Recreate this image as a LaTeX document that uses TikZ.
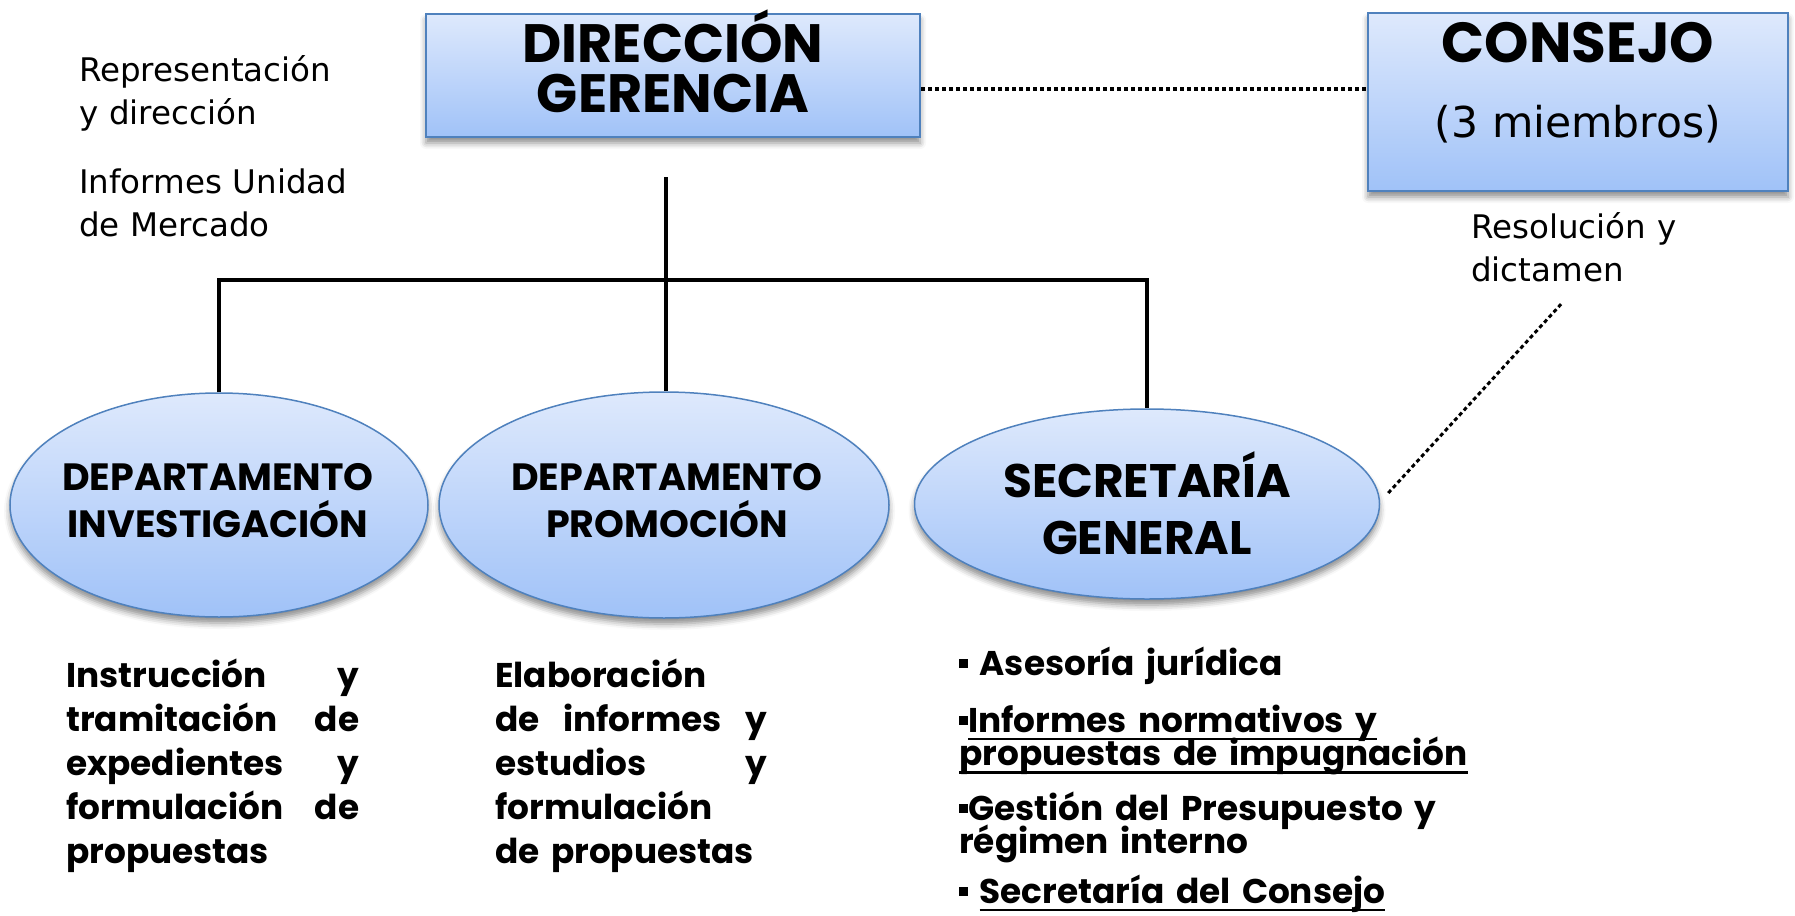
\documentclass[tikz,border=0pt]{standalone}
\usepackage{fontspec}
\setmainfont{DejaVu Sans}
\newfontfamily\gothic{Poppins}
\usetikzlibrary{shapes.geometric, shadows.blur, positioning, calc}
\definecolor{boxtop}{RGB}{222,233,252}
\definecolor{boxbot}{RGB}{160,194,248}
\definecolor{boxline}{RGB}{79,129,189}
\newsavebox{\ulinebox}
\newcommand{\ulined}[1]{\sbox{\ulinebox}{#1}\smash{\rlap{\rule[-8pt]{\wd\ulinebox}{2.5pt}}}\usebox{\ulinebox}}
\newcommand{\bulsq}{\rule[7pt]{9pt}{9pt}}
\setlength{\lineskiplimit}{-100pt}

\tikzset{
  unit/.style={draw=boxline, top color=boxtop, bottom color=boxbot,
    blur shadow={shadow xshift=0pt, shadow yshift=-6pt, shadow blur radius=6pt, shadow opacity=45}},
  headbox/.style={unit, rectangle, line width=2.5pt, inner sep=0pt},
  dept/.style={unit, ellipse, line width=1.5pt, inner sep=0pt},
  depttxt/.style={font=\gothic\bfseries\fontsize{38}{47}\selectfont,
    text width=400pt, align=center, anchor=base, inner sep=0pt},
  title/.style={font=\gothic\bfseries\fontsize{54}{50}\selectfont,
    text width=480pt, align=center, anchor=base, inner sep=0pt},
  note/.style={font=\fontsize{32.5}{43}\selectfont, text width=320pt, align=left,
    anchor=base west, inner sep=0pt},
  task/.style={font=\gothic\bfseries\fontsize{34.3}{44}\selectfont, anchor=base west,
    inner sep=0pt, align=left},
  fnitem/.style={font=\gothic\bfseries\fontsize{34.3}{30}\selectfont,
    text width=600pt, anchor=base west, inner sep=0pt, align=left},
  link/.style={line width=3.5pt},
  dotlink/.style={line width=4pt, dash pattern=on 4pt off 3pt},
}

\begin{document}
\begin{tikzpicture}[x=1pt, y=-1pt]
  \useasboundingbox (0,0) rectangle (1795,915);

  % Cabecera
  \node[headbox, minimum width=494pt, minimum height=123pt] (dir) at (673,75.5) {};
  \node[title] (dirtxt) at (673,63) {DIRECCIÓN\\GERENCIA};
  \node[headbox, minimum width=420pt, minimum height=178pt] (consejo) at (1578,102) {};
  \node[title, font=\gothic\bfseries\fontsize{56.5}{50}\selectfont] (constxt) at (1578,63) {CONSEJO};
  \node[font=\fontsize{42.5}{48}\selectfont, anchor=base, inner sep=0pt] (miembros) at (1578,137) {(3 miembros)};

  % Notas
  \node[note] (repr) at (79,82) {Representación\\y dirección};
  \node[note] (infum) at (79,193) {Informes Unidad\\de Mercado};
  \node[note] (resol) at (1471,238) {Resolución y\\dictamen};

  % Departamentos
  \node[dept, minimum width=418pt, minimum height=224pt] (inv) at (219,505) {};
  \node[depttxt] (invtxt) at (218,490) {DEPARTAMENTO\\INVESTIGACIÓN};
  \node[dept, minimum width=450pt, minimum height=226pt] (prom) at (664,505) {};
  \node[depttxt] (promtxt) at (667,490) {DEPARTAMENTO\\PROMOCIÓN};
  \node[dept, minimum width=465pt, minimum height=190pt] (sec) at (1147,504) {};
  \node[depttxt, font=\gothic\bfseries\fontsize{47}{57}\selectfont] (sectxt) at (1147,497) {SECRETARÍA\\GENERAL};

  % Organigrama
  \coordinate (trunk) at (666,177);
  \coordinate (bar) at (666,280);
  \draw[link] (trunk) -- (trunk |- prom.north);
  \draw[link] (inv.north) -- (inv.north |- bar) -- (sec.north |- bar) -- (sec.north);

  % Relaciones con el Consejo
  \draw[dotlink] ([yshift=-13.5pt]dir.east) -- ([yshift=-13.5pt]dir.east -| consejo.west);
  \coordinate (dict) at (1563,302);
  \draw[dotlink, line width=3pt] ([xshift=8pt,yshift=11pt]sec.east) -- (dict);

  % Funciones
  \node[task, text width=293pt] (invfun) at (66,687)
    {Instrucción\hfill y\\tramitación\hfill de\\expedientes\hfill y\\formulación\hfill de\\propuestas};
  \node[task, text width=272pt] (promfun) at (495,687)
    {Elaboración\\de\hfill informes\hfill y\\estudios\hfill y\\formulación\\de propuestas};
  \node[fnitem] (fun1) at (959,675) {\bulsq\ Asesoría jurídica};
  \node[fnitem] (fun2) at (959,732) {\bulsq\ulined{Informes normativos y}\\[-5pt]\ulined{propuestas de impugnación}};
  \node[fnitem] (fun3) at (959,820) {\bulsq Gestión del Presupuesto y\\[-5pt]régimen interno};
  \node[fnitem] (fun4) at (959,903) {\bulsq\ \ulined{Secretaría del Consejo}};
\end{tikzpicture}
\end{document}
